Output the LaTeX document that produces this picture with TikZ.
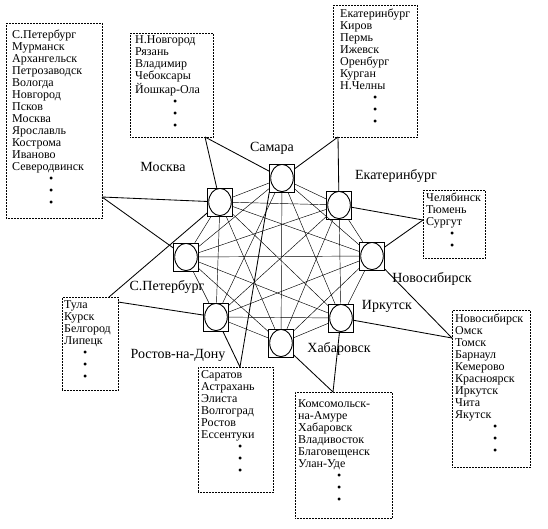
\documentclass[tikz,border=0pt]{standalone}
\usepackage{fontspec}
\setmainfont{Liberation Serif}
\begin{document}
\begin{tikzpicture}[x=1pt,y=-1pt,
  gnode/.style={draw, line width=0.5pt, minimum width=25pt, minimum height=28pt, inner sep=0pt,
    path picture={\draw[line width=0.9pt] (path picture bounding box.center) ellipse [x radius=11.3pt, y radius=13.6pt];}},
  mesh/.style={line width=0.45pt},
  link/.style={line width=0.85pt},
  cbox/.style={draw, densely dotted, line width=0.5pt, anchor=north west, inner sep=0pt},
  ctext/.style={anchor=base west, inner sep=0pt, align=left, text width=#1, font=\fontsize{12}{12}\selectfont},
  lab/.style={anchor=base, inner sep=0pt, font=\fontsize{14}{16}\selectfont}]
\useasboundingbox (0,0) rectangle (548,528);

% graph nodes
\node[gnode] (sam) at (282,178) {};
\node[gnode] (msk) at (220,202) {};
\node[gnode] (ekb) at (339,205) {};
\node[gnode] (spb) at (186,257) {};
\node[gnode] (nsk) at (372,256) {};
\node[gnode] (ros) at (216,317) {};
\node[gnode] (irk) at (341,318) {};
\node[gnode] (khb) at (281,343) {};

% complete mesh
\foreach \a/\b in {sam/ekb,sam/nsk,sam/irk,sam/khb,sam/ros,sam/spb,sam/msk,
                   ekb/nsk,ekb/irk,ekb/khb,ekb/ros,ekb/spb,ekb/msk,
                   nsk/irk,nsk/khb,nsk/ros,nsk/spb,nsk/msk,
                   irk/khb,irk/ros,irk/spb,irk/msk,
                   khb/ros,khb/spb,khb/msk,
                   ros/spb,ros/msk,
                   spb/msk}
  \draw[mesh] (\a) -- (\b);

% labels
\node[lab] (lsam) at (272,151) {Самара};
\node[lab] (lmsk) at (163,171) {Москва};
\node[lab] (lekb) at (396,179) {Екатеринбург};
\node[lab] (lspb) at (167,290) {С.Петербург};
\node[lab] (lnsk) at (432,282) {Новосибирск};
\node[lab] (lirk) at (387,309) {Иркутск};
\node[lab] (lkhb) at (339,352) {Хабаровск};
\node[lab] (lros) at (178,358) {Ростов-на-Дону};

% boxes
\node[cbox, minimum width=96pt, minimum height=195pt] (bL) at (6,23) {};
\node[cbox, minimum width=83pt, minimum height=104pt] (bNN) at (130,33) {};
\node[cbox, minimum width=84pt, minimum height=132pt] (bE) at (333,5) {};
\node[cbox, minimum width=62pt, minimum height=68pt] (bCh) at (423,190) {};
\node[cbox, minimum width=56pt, minimum height=93pt] (bT) at (62,297) {};
\node[cbox, minimum width=75pt, minimum height=125pt] (bS) at (198,367) {};
\node[cbox, minimum width=97pt, minimum height=126pt] (bKh) at (295,392) {};
\node[cbox, minimum width=78pt, minimum height=157pt] (bN) at (452,310) {};

% box texts
\node[ctext=88pt] (tL) at (12,38.5) {С.Петербург\\Мурманск\\Архангельск\\Петрозаводск\\Вологда\\Новгород\\Псков\\Москва\\Ярославль\\Кострома\\Иваново\\Северодвинск\\\hspace*{37pt}\textbullet\\\hspace*{37pt}\textbullet\\\hspace*{37pt}\textbullet};
\node[ctext=76pt] (tNN) at (135,43.5) {Н.Новгород\\Рязань\\Владимир\\Чебоксары\\Йошкар-Ола\\\hspace*{38pt}\textbullet\\\hspace*{38pt}\textbullet\\\hspace*{38pt}\textbullet};
\node[ctext=76pt] (tE) at (340,17) {Екатеринбург\\Киров\\Пермь\\Ижевск\\Оренбург\\Курган\\Н.Челны\\\hspace*{33pt}\textbullet\\\hspace*{33pt}\textbullet\\\hspace*{33pt}\textbullet};
\node[ctext=58pt] (tCh) at (426,201.5) {Челябинск\\Тюмень\\Сургут\\\hspace*{24pt}\textbullet\\\hspace*{24pt}\textbullet};
\node[ctext=52pt] (tT) at (64,308.5) {Тула\\Курск\\Белгород\\Липецк\\\hspace*{19pt}\textbullet\\\hspace*{19pt}\textbullet\\\hspace*{19pt}\textbullet};
\node[ctext=70pt] (tS) at (201,378.5) {Саратов\\Астрахань\\Элиста\\Волгоград\\Ростов\\Ессентуки\\\hspace*{37pt}\textbullet\\\hspace*{37pt}\textbullet\\\hspace*{37pt}\textbullet};
\node[ctext=92pt] (tKh) at (298,407) {Комсомольск-\\на-Амуре\\Хабаровск\\Владивосток\\Благовещенск\\Улан-Уде\\\hspace*{39pt}\textbullet\\\hspace*{39pt}\textbullet\\\hspace*{39pt}\textbullet};
\node[ctext=74pt] (tN) at (455,322) {Новосибирск\\Омск\\Томск\\Барнаул\\Кемерово\\Красноярск\\Иркутск\\Чита\\Якутск\\\hspace*{38pt}\textbullet\\\hspace*{38pt}\textbullet\\\hspace*{38pt}\textbullet};

% attachment points on boxes
\coordinate (lA) at (102,197);
\coordinate (nnA) at (205,137);
\coordinate (eA) at (338,137);
\coordinate (chA) at (423,220);
\coordinate (nA) at (452,338);
\coordinate (khA) at (333,392);
\coordinate (sA) at (240,367);
\coordinate (tA) at (109,297);
\coordinate (tB) at (118,302);

% external links
\draw[link] (lA) -- (msk);
\draw[link] (lA) -- (spb);
\draw[link] (nnA) -- (msk);
\draw[link] (nnA) -- (sam);
\draw[link] (eA) -- (sam);
\draw[link] (eA) -- (ekb);
\draw[link] (chA) -- (ekb);
\draw[link] (chA) -- (nsk);
\draw[link] (nA) -- (nsk);
\draw[link] (nA) -- (irk);
\draw[link] (khA) -- (khb);
\draw[link] (khA) -- (irk);
\draw[link] (sA) -- (ros);
\draw[link] (sA) -- (sam.south west);
\draw[link] (tA) -- (msk);
\draw[link] (tB) -- (ros);
\end{tikzpicture}
\end{document}
